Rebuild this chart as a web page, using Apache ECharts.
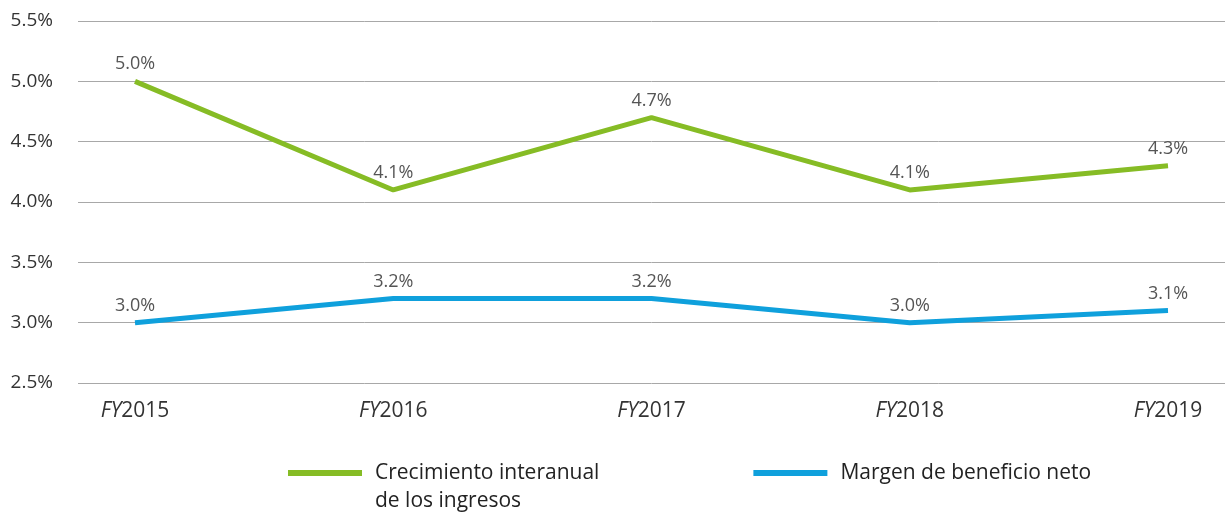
<!DOCTYPE html>
<html>
<head>
<meta charset="utf-8">
<script src="https://cdn.jsdelivr.net/npm/echarts@6/dist/echarts.min.js"></script>
<style>
html,body{margin:0;padding:0;background:#fff;}
#c{width:1225px;height:514px;}
</style>
</head>
<body>
<div id="c"></div>
<script>
const categories = ['FY2015', 'FY2016', 'FY2017', 'FY2018', 'FY2019'];
const crecimiento = [5.0, 4.1, 4.7, 4.1, 4.3];
const margen = [3.0, 3.2, 3.2, 3.0, 3.1];
const seriesNames = ['Crecimiento interanual\nde los ingresos', 'Margen de beneficio neto'];
const yTicks = [2.5, 3.0, 3.5, 4.0, 4.5, 5.0, 5.5];

const FONT = '"Open Sans", "Noto Sans", sans-serif';
const GREEN = '#86bc25';
const BLUE = '#0fa0dc';

const toPairs = arr => arr.map((v, i) => [i, v]);

const chart = echarts.init(document.getElementById('c'), null, {renderer: 'canvas'});
const labelCfg = {
  show: true, position: 'top', distance: 8,
  fontSize: 18, color: '#555', fontFamily: FONT,
  formatter: p => p.value[1].toFixed(1) + '%'
};
chart.setOption({
  animation: false,
  textStyle: {fontFamily: FONT},
  grid: {left: 78, right: 0, top: 21, bottom: 131, containLabel: false},
  xAxis: {
    type: 'value',
    min: -0.2207,
    max: 4.2207,
    splitLine: {show: false},
    axisLine: {show: false},
    axisTick: {show: false},
    axisLabel: {
      customValues: categories.map((c, i) => i),
      margin: 18,
      formatter: v => {
        const c = categories[Math.round(v)] || '';
        return '{i|' + c.slice(0, 2) + '}{n|' + c.slice(2) + '}';
      },
      rich: {
        i: {fontStyle: 'italic', fontSize: 21, color: '#333', fontFamily: FONT},
        n: {fontSize: 21, color: '#333', fontFamily: FONT}
      }
    }
  },
  yAxis: {
    type: 'value',
    min: yTicks[0],
    max: yTicks[yTicks.length - 1],
    interval: 0.5,
    axisLine: {show: false},
    axisTick: {show: false},
    splitLine: {lineStyle: {color: '#a8a8a8', width: 1}},
    axisLabel: {
      margin: 25,
      fontSize: 19,
      color: '#333',
      fontFamily: FONT,
      formatter: v => v.toFixed(1) + '%'
    }
  },
  legend: {
    left: 283,
    top: 426,
    itemWidth: 74,
    itemHeight: 6,
    itemGap: 154,
    icon: 'rect',
    formatter: name => (name.indexOf('\n') >= 0 ? '\n' + name : name),
    textStyle: {fontSize: 21, color: '#222', fontFamily: FONT, lineHeight: 28, padding: [0, 0, 0, 8]},
    data: seriesNames
  },
  series: [
    {
      name: seriesNames[0],
      type: 'line',
      data: toPairs(crecimiento),
      symbol: 'circle',
      symbolSize: 0.1,
      lineStyle: {color: GREEN, width: 5},
      itemStyle: {color: GREEN},
      label: labelCfg
    },
    {
      name: seriesNames[1],
      type: 'line',
      data: toPairs(margen),
      symbol: 'circle',
      symbolSize: 0.1,
      lineStyle: {color: BLUE, width: 5},
      itemStyle: {color: BLUE},
      label: labelCfg
    }
  ]
});
</script>
</body>
</html>
